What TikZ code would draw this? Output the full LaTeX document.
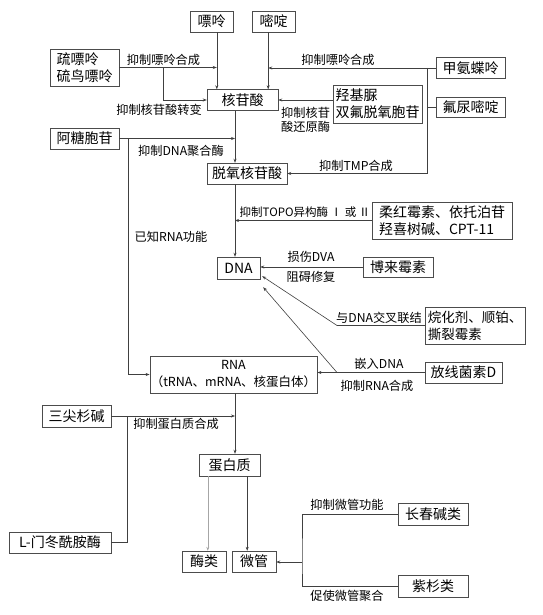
\documentclass[tikz,border=0pt]{standalone}
\usepackage{fontspec}
\setmainfont{Noto Sans CJK SC}
\usetikzlibrary{arrows.meta,calc}

\begin{document}
\begin{tikzpicture}[x=1pt,y=-1pt,
  box/.style={draw=black!70,font=\fontsize{14}{17}\selectfont,inner sep=2pt,minimum height=21pt},
  lab/.style={font=\fontsize{12.2}{14}\selectfont,inner sep=0pt,align=left},
  arr/.style={-{Stealth[length=4pt,width=3pt]},black!75,line width=0.6pt},
  ln/.style={black!75,line width=0.6pt}]
\useasboundingbox (0,0) rectangle (542,615);
% drugs and targets
\node[box,minimum width=43pt] (purine) at (211.5,21.5) {嘌呤};
\node[box,minimum width=43pt] (pyrim) at (273.5,21.5) {嘧啶};
\node[box,minimum width=69pt,minimum height=37pt,align=left] (mp) at (84.5,67.5) {疏嘌呤\\硫鸟嘌呤};
\node[box,minimum width=71pt] (nuc) at (242.5,100) {核苷酸};
\node[box,minimum width=69pt] (mtx) at (470.5,68) {甲氨蝶呤};
\node[box,minimum width=89pt,minimum height=38pt,align=left] (hu) at (377.5,104) {羟基脲\\双氟脱氧胞苷};
\node[box,minimum width=69pt,minimum height=20pt] (fu) at (470.5,107) {氟尿嘧啶};
\node[box,minimum width=69pt] (arac) at (84.5,138.5) {阿糖胞苷};
\node[box,minimum width=80pt] (dnuc) at (247,173.5) {脱氧核苷酸};
\node[box,minimum width=43pt,minimum height=22pt] (dna) at (238.5,268) {DNA};
\node[box,minimum width=140pt,minimum height=37pt,align=left] (topo) at (442,220.5) {柔红霉素、依托泊苷\\羟喜树碱、CPT-11};
\node[box,minimum width=70pt,minimum height=20pt] (bleo) at (398,267) {博来霉素};
\node[box,minimum width=100pt,minimum height=37pt,align=left,font=\fontsize{13.5}{17}\selectfont] (alk) at (475,325.5) {烷化剂、顺铂、\\撕裂霉素};
\node[box,minimum width=167pt,minimum height=37pt,align=center,inner sep=1pt,font=\fontsize{12.5}{17}\selectfont] (rna) at (233.5,374.5) {RNA\\（tRNA、mRNA、核蛋白体）};
\node[box,minimum width=77pt] (actd) at (463.5,372.5) {放线菌素D};
\node[box,minimum width=69pt,minimum height=22pt] (harr) at (76.5,416) {三尖杉碱};
\node[box,minimum width=61pt,minimum height=22pt] (prot) at (229.5,465) {蛋白质};
\node[box,minimum width=102pt] (asp) at (60,542.5) {L-门冬酰胺酶};
\node[box,minimum width=44pt] (enz) at (204,561.5) {酶类};
\node[box,minimum width=44pt] (mt) at (254,561.5) {微管};
\node[box,minimum width=70pt,minimum height=22pt] (vinca) at (433,514) {长春碱类};
\node[box,minimum width=70pt,minimum height=22pt] (taxane) at (433,586) {紫杉类};
% labels
\node[lab] (l1) at (163.5,60) {抑制嘌呤合成};
\node[lab] (l2) at (159,110) {抑制核苷酸转变};
\node[lab] (l3) at (338,60) {抑制嘌呤合成};
\node[lab,anchor=west] (l4) at (281,120) {抑制核苷\\酸还原酶};
\node[lab] (l5) at (181,151) {抑制DNA聚合酶};
\node[lab] (l6) at (356,166) {抑制TMP合成};
\node[lab] (l7) at (171,237) {已知RNA功能};
\node[lab,font=\fontsize{11.5}{14}\selectfont] (l8) at (305,212) {抑制TOPO异构酶 Ⅰ 或 Ⅱ};
\node[lab] (l9) at (311,257) {损伤DVA};
\node[lab] (l10) at (311,277) {阻碍修复};
\node[lab] (l11) at (379,318) {与DNA交叉联结};
\node[lab] (l12) at (379,364) {嵌入DNA};
\node[lab] (l13) at (377,386) {抑制RNA合成};
\node[lab] (l14) at (176,424) {抑制蛋白质合成};
\node[lab] (l15) at (347,505) {抑制微管功能};
\node[lab] (l16) at (347,596) {促使微管聚合};
% connector points
\coordinate (pu) at ($(nuc.north west)+(10,0)$);
\coordinate (py) at ($(nuc.north east)+(-10,0)$);
\coordinate (sp) at (235,0);
\coordinate (b1) at (163,67.5);
\coordinate (b2) at (128,138.5);
\coordinate (b3) at (127,416);
\coordinate (v1) at (427,68);
\coordinate (k1) at (337,325.5);
\coordinate (k2) at (337,372.5);
\coordinate (d1) at ($(dna.south east)+(2,-3)$);
\coordinate (d2) at ($(dna.south east)+(3,8)$);
\coordinate (e1) at ($(prot.south west)+(9,0)$);
\coordinate (e2) at ($(prot.south east)+(-13,0)$);
\coordinate (m1) at (302,562);
% connectors
\draw[arr] (purine.south -| pu) -- (pu); \draw[arr] (pyrim.south -| py) -- (py);
\draw[arr] (mp.east) -- (mp.east -| pu); \draw[arr] (b1) |- (nuc.west);
\draw[arr] (mtx.west) -- (mtx.west -| py); \draw[arr] (v1) |- (dnuc.east); \draw[ln] (fu.west) -- (fu.west -| v1);
\draw[arr] (hu.west |- nuc.east) -- (nuc.east);
\draw[arr] (nuc.south -| sp) -- (dnuc.north -| sp);
\draw[arr] (arac.east) -- (arac.east -| sp); \draw[arr] (b2) |- (rna.west);
\draw[arr] (dnuc.south -| sp) -- (dna.north -| sp);
\draw[arr] (topo.west) -- (topo.west -| sp);
\draw[arr] (bleo.west) -- (dna.east |- bleo.west);
\draw[arr] (alk.west) -- (k1) -- (d1);
\draw[arr] (actd.west) -- (rna.east |- actd.west); \draw[arr] (k2) -- (d2);
\draw[arr] (rna.south -| sp) -- (prot.north -| sp);
\draw[arr] (harr.east) -- (harr.east -| sp); \draw[ln] (b3) |- (asp.east);
\draw[arr,black!35] (e1) -- (enz.north -| e1); \draw[arr] (e2) -- (mt.north -| e2);
\draw[ln] (vinca.west) -| (m1) |- (taxane.west); \draw[arr] (m1) -- (mt.east |- m1);
\end{tikzpicture}
\end{document}
